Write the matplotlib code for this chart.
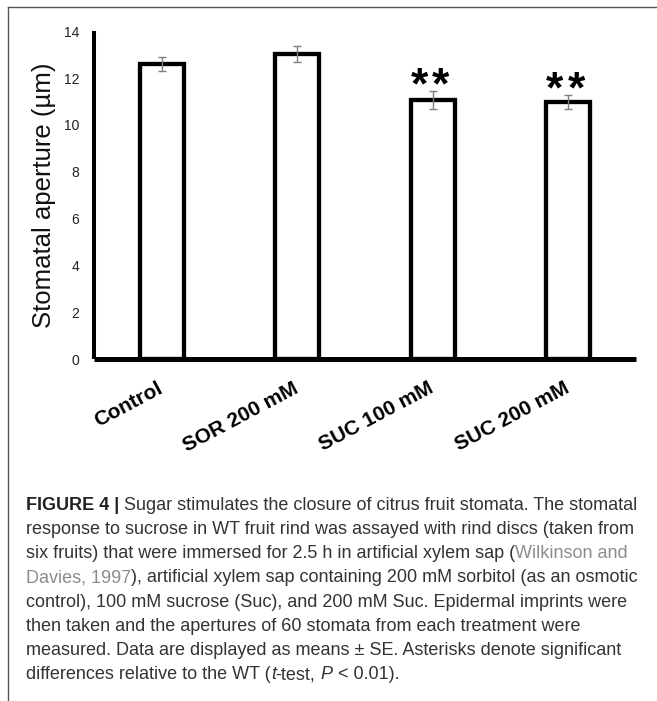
import matplotlib
matplotlib.use('Agg')
import matplotlib.pyplot as plt
from matplotlib.lines import Line2D
import matplotlib.transforms as mtransforms
import numpy as np

# ---------------- data ----------------
categories = ['Control', 'SOR 200 mM', 'SUC 100 mM', 'SUC 200 mM']
means = [12.6, 13.03, 11.07, 10.97]
errors = [0.30, 0.34, 0.37, 0.29]
marks = ['', '', '**', '**']
yticks = [0, 2, 4, 6, 8, 10, 12, 14]
ylabel = 'Stomatal aperture (µm)'

caption_lines = [
    [('FIGURE 4 |', 'bold'), (' Sugar stimulates the closure of citrus fruit stomata. The stomatal', 'normal')],
    [('response to sucrose in WT fruit rind was assayed with rind discs (taken from', 'normal')],
    [('six fruits) that were immersed for 2.5 h in artificial xylem sap (', 'normal'), ('Wilkinson and', 'cite')],
    [('Davies, 1997', 'cite'), ('), artificial xylem sap containing 200 mM sorbitol (as an osmotic', 'normal')],
    [('control), 100 mM sucrose (Suc), and 200 mM Suc. Epidermal imprints were', 'normal')],
    [('then taken and the apertures of 60 stomata from each treatment were', 'normal')],
    [('measured. Data are displayed as means \u00b1 SE. Asterisks denote significant', 'normal')],
    [('differences relative to the WT (', 'normal'), ('t', 'italic'), ('-test, ', 'normal'),
     ('P', 'italic'), (' < 0.01).', 'normal')],
]

# ---------------- figure ----------------
W, H = 657, 701
fig = plt.figure(figsize=(W / 100, H / 100), dpi=100)
fig.patch.set_facecolor('white')

FONT = ['Liberation Sans', 'DejaVu Sans']

ax_l, ax_r, ax_t, ax_b = 94, 636, 31.2, 359.4
ax = fig.add_axes([ax_l / W, 1 - ax_b / H, (ax_r - ax_l) / W, (ax_b - ax_t) / H])

x = np.arange(len(categories))
ax.bar(x, means, width=0.325, color='white', edgecolor='black', linewidth=3.1, zorder=2)
ax.errorbar(x, means, yerr=errors, fmt='none', ecolor='#7f7f7f', elinewidth=1.0,
            capsize=3.0, capthick=1.0, zorder=3)

# significance marks: each star drawn separately to get the wider spacing of the original
for xi, m, e, s in zip(x, means, errors, marks):
    n = len(s)
    for k, ch in enumerate(s):
        dx = (k - (n - 1) / 2) * 15.5 - 2.0
        ax.annotate(ch, xy=(xi, m + e), xytext=(dx, -5.2), textcoords='offset points',
                    ha='center', va='baseline', fontsize=32, fontweight='bold',
                    family=FONT, color='black', zorder=4)

ax.set_xlim(-0.5, 3.5)
ax.set_ylim(0, 14)
ax.set_yticks(yticks)
ax.set_yticklabels([str(v) for v in yticks], family=FONT, fontsize=10, color='#222222')
ax.set_xticks(x)
ax.set_xticklabels(categories, family=FONT, fontsize=15, fontweight='bold',
                   rotation=28, ha='right', rotation_mode='anchor', color='black')
ax.tick_params(axis='y', length=0, pad=10.5)
ax.tick_params(axis='x', length=0, pad=13)
shift = mtransforms.ScaledTranslation(-5 / 100, -1 / 100, fig.dpi_scale_trans)
for lab in ax.get_xticklabels():
    lab.set_transform(lab.get_transform() + shift)

ax.set_ylabel(ylabel, family=FONT, fontsize=18.5, color='#111111')
ax.yaxis.set_label_coords((56.5 - ax_l) / (ax_r - ax_l), 0.5)

for side in ['top', 'right']:
    ax.spines[side].set_visible(False)
ax.spines['left'].set_linewidth(2.9)
ax.spines['bottom'].set_linewidth(3.6)
ax.spines['left'].set_capstyle('butt')
ax.spines['bottom'].set_capstyle('butt')

# ---------------- frame lines ----------------
fig.add_artist(Line2D([8 / W, 1], [1 - 6.5 / H, 1 - 6.5 / H], transform=fig.transFigure,
                      color='#555555', linewidth=1.0))
fig.add_artist(Line2D([8 / W, 8 / W], [0, 1 - 6.5 / H], transform=fig.transFigure,
                      color='#555555', linewidth=1.0))

# ---------------- caption ----------------
cap_size = 13.0
styles = {
    'normal': dict(color='#333333', fontweight='normal', fontstyle='normal'),
    'bold': dict(color='#222222', fontweight='bold', fontstyle='normal'),
    'cite': dict(color='#8c8c8c', fontweight='normal', fontstyle='normal'),
    'italic': dict(color='#333333', fontweight='normal', fontstyle='italic'),
}
renderer = fig.canvas.get_renderer()


def text_width(s, st):
    t = fig.text(0, 0, s, family=FONT, fontsize=cap_size, **styles[st])
    w = t.get_window_extent(renderer).width
    t.remove()
    return w


space_w = text_width('a a', 'normal') - text_width('aa', 'normal')

x0 = 26
base0 = 510
step = 24.15
for i, segs in enumerate(caption_lines):
    y = 1 - (base0 + i * step) / H
    xp = x0
    for s, st in segs:
        lead = len(s) - len(s.lstrip(' '))
        trail = len(s) - len(s.rstrip(' '))
        core = s.strip(' ')
        xp += lead * space_w
        t = fig.text(xp / W, y, core, family=FONT, fontsize=cap_size, va='baseline',
                     ha='left', **styles[st])
        bb = t.get_window_extent(renderer)
        xp = bb.x1 + trail * space_w

fig.savefig('out.png', dpi=100, facecolor='white')
